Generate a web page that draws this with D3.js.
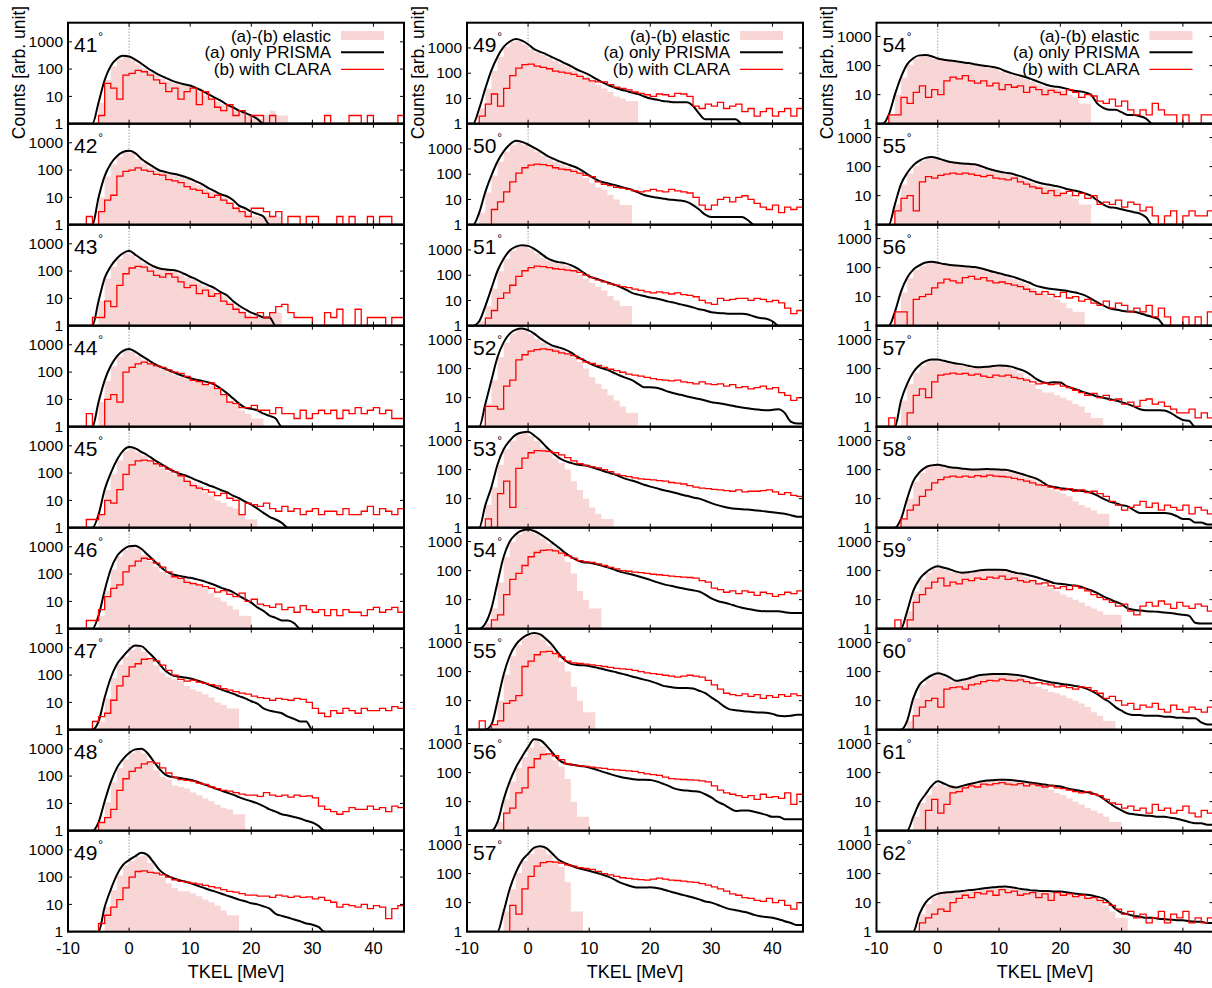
<!DOCTYPE html>
<html><head><meta charset="utf-8">
<script src="https://cdn.jsdelivr.net/npm/d3@7"></script>
<style>
body{margin:0;background:#fff}
svg{display:block}
text{font-family:"Liberation Sans",Arial,Helvetica,sans-serif;fill:#000}
</style>
</head><body>
<svg id="chart" width="1212" height="988"></svg>
<script>
// ---- data: counts per 1 MeV bin, first bin starts at binStart (bins absent at the end are empty) ----
const binStart = -8;
const xTicks = [-10, 0, 10, 20, 30, 40];
const yTicks = [1, 10, 100, 1000];
const xTickLabels = ["-10", "0", "10", "20", "30", "40"];
const yTickLabels = ["1", "10", "100", "1000"];
const legendLabels = ["(a)-(b) elastic", "(a) only PRISMA", "(b) with CLARA"];
const xTitle = "TKEL [MeV]";
const yTitle = "Counts [arb. unit]";

const leftAngles = [41, 42, 43, 44, 45, 46, 47, 48, 49];
const midAngles = [49, 50, 51, 52, 53, 54, 55, 56, 57];
const rightAngles = [54, 55, 56, 57, 58, 59, 60, 61, 62];
const leftYMax = [5000, 5000, 5000, 5000, 5000, 5000, 5000, 5000, 5000];
const midYMax = [10000, 10000, 10000, 3000, 3000, 3000, 3000, 3000, 3000];
const rightYMax = [3000, 3000, 3000, 3000, 3000, 3000, 3000, 3000, 3000];

// a = (a) only PRISMA, b = (b) with CLARA, e = (a)-(b) elastic
const L41a = [0,0,1,6,40, 130,240,310,290,220, 160,110,80,60,48, 38,32,28,25,20, 16,12,9,7,5, 4,3,2.5,2,1.5, 1];
const L41b = [0,1,1,2,30, 20,8,60,70,90, 80,60,40,30,15, 20,8,15,20,5, 15,8,4,3,5, 2,3,1,2,2, 1,2,1,0,0, 1,0,0,0,0, 2,0,0,0,2, 2,0,2,0,0, 0,0,2];
const L41e = [0,0,1,6,40, 125,230,300,280,210, 150,105,76,57,46, 36,30,27,24,19, 15,11,8.5,6.5,5, 4,3,2.5,2,1.5, 2,4,3,2];
const L42a = [0,0,1,10,60, 170,320,460,510,420, 260,180,130,97,85, 75,68,58,48,38, 30,22,17,13,11, 8,5,4,3,2.5, 2];
const L42b = [0,2,1,3,8, 12,60,90,100,120, 100,90,70,65,45, 40,35,25,20,18, 14,10,12,8,6, 4,3,2,4,4, 3,2,3,1,2, 2,1,2,2,1, 0,0,2,0,2, 1,0,2,0,2, 2,0,0];
const L42e = [0,0,1,10,58, 165,310,450,500,410, 255,175,125,93,82, 72,65,55,46,36, 28,21,16,12,10, 7,4.5,3.5,2.5,2, 2,3,2];
const L43a = [0,0,1,8,55, 150,290,450,560,400, 280,200,150,125,115, 110,100,80,62,50, 38,30,24,17,13, 8,5.5,4,3,2.5, 2,2];
const L43b = [0,0,2,2,8, 5,30,80,130,150, 140,100,70,60,80, 60,40,25,30,15, 20,12,15,8,6, 4,3,2,2,3, 2,3,5,6,3, 2,2,2,0,0, 3,2,4,0,0, 4,0,2,2,2, 0,2,2];
const L43e = [0,0,1,8,53, 145,280,440,550,390, 270,195,145,120,110, 105,95,76,60,48, 36,28,22,16,12, 7.5,5,3.5,2.5,2, 2,4,3];
const L44a = [0,0,1,8,50, 170,380,600,700,560, 400,290,210,160,130, 105,85,70,60,52, 47,42,35,25,17, 11,7,5,4.5,4, 3,2.5,2,1];
const L44b = [0,3,1,1,10, 15,8,100,150,200, 230,200,170,150,120, 100,90,70,50,45, 35,40,25,15,8, 7,5,5,6,4, 4,3,5,3,3, 2,4,2,3,4, 3,4,2,4,3, 5,3,4,5,3, 4,2,2];
const L44e = [0,0,1,8,48, 165,370,590,690,550, 390,280,200,155,125, 100,80,66,57,49, 44,39,32,22,14, 9,6,4,3,2];
const L45a = [0,0,1,3,25, 100,300,650,900,800, 600,450,320,230,170, 125,100,85,70,55, 45,36,30,24,20, 15,12,9,7,5, 3.5,2.5,2,1.5];
const L45b = [0,2,2,3,10, 8,25,90,200,280, 300,280,220,180,140, 110,80,50,35,28, 25,20,15,18,12, 10,3,8,7,6, 8,5,4,6,4, 5,3,4,5,3, 4,4,3,5,3, 3,4,6,3,5, 4,3,5];
const L45e = [0,0,1,3,24, 95,290,630,880,780, 580,430,300,215,160, 115,90,75,60,45, 35,20,15,10,8, 6,5,3,2];
const L46a = [0,0,1,3,25, 150,450,780,1050,1100, 850,520,320,200,130, 100,88,80,73,65, 57,48,40,32,27, 22,16,12,9,6, 4.5,3,2.5,2,2, 1.6];
const L46b = [0,2,2,5,15, 30,40,120,200,300, 380,350,250,180,120, 80,70,50,45,40, 35,30,22,25,18, 15,20,10,12,8, 7,6,8,5,6, 4,7,5,4,5, 3,5,3,5,4, 4,3,5,6,4, 5,6,4];
const L46e = [0,0,1,3,24, 145,440,760,1030,1080, 830,500,300,185,120, 92,80,70,62,52, 42,30,20,14,10, 7,5,3];
const L47a = [0,0,0,2,15, 80,250,480,850,1200, 1150,750,450,250,140, 100,88,82,75,65, 55,45,37,30,25, 21,17,14,11,9, 6,5,4.5,4,3, 2.5,2,2];
const L47b = [1,1,2,3,4, 12,40,90,200,260, 380,400,330,230,150, 100,70,60,65,55, 50,45,40,32,28, 25,22,20,17,15, 14,12,14,13,12, 14,13,10,6,4, 3,5,4,6,5, 4,6,5,5,6, 5,7,6];
const L47e = [0,0,0,2,14, 78,240,470,830,1170, 1120,720,430,230,125, 85,70,60,40,30, 25,20,15,10,8, 6];
const L48a = [0,0,0,2,12, 60,200,420,700,950, 1000,700,350,180,110, 92,87,80,73,63, 52,44,36,30,25, 21,17,14,12,10, 8,6,5,4,3.6, 3.2,2.8,2.3,2,1.5];
const L48b = [0,0,1,2,3, 6,30,80,150,200, 280,330,300,200,130, 90,75,70,65,55, 50,40,35,30,28, 25,22,20,20,18, 25,20,18,20,17, 20,18,19,16,8, 6,5,4,5,7, 6,6,8,6,7, 5,8,7];
const L48e = [0,0,0,2,11, 58,195,410,680,920, 970,670,330,165,95, 75,45,40,35,25, 20,15,12,9,7, 6,4];
const L49a = [0,0,0,1,8, 35,120,280,420,580, 780,650,350,180,120, 95,80,70,60,50, 42,35,30,25,21, 18,15,13,11,10, 8.5,7,4.5,3.8,3.3, 2.8,2.4,2,1.8,1.5];
const L49b = [0,0,0,2,4, 8,15,40,100,160, 170,150,140,120,100, 80,70,65,60,55, 50,45,40,35,30, 28,25,22,22,20, 20,18,22,20,18, 20,18,19,16,18, 14,12,8,10,9, 8,10,7,9,8, 3,7,9];
const L49e = [0,0,0,1,8, 33,115,270,400,560, 750,620,330,160,100, 60,40,30,30,25, 20,15,12,9,6, 4];

const M49a = [4,25,130,450,1100, 1800,2250,1950,1400,900, 700,560,420,330,250, 190,140,110,85,62, 45,35,28,23,20, 17,15,12,10,9, 8,7.5,7,7,7, 5,2.5,1.5,1.5,1.5, 1.5,1.5,1.5];
const M49b = [2,6,15,5,25, 80,160,220,230,190, 170,150,120,110,100, 90,75,60,50,45, 45,35,28,25,22, 18,16,14,12,15, 14,12,16,15,12, 5,4,6,5,7, 4,5,6,3,4, 2,3,4,2,3, 4,2,4];
const M49e = [4,24,125,440,1080, 1770,2200,1900,1370,880, 680,540,400,310,235, 175,125,95,70,50, 35,25,18,12,10, 8];
const M50a = [3,20,90,320,800, 1500,2100,1900,1500,1100, 800,560,420,330,270, 220,180,130,90,65, 50,44,38,33,28, 24,19,15,13,12, 11,10,9.5,9,8, 6,4,2.5,2,2, 2,2,2,2,1.5];
const M50b = [1,1,4,8,20, 50,110,180,230,250, 240,220,180,160,150, 130,110,90,80,50, 40,35,30,28,25, 22,20,22,25,22, 20,25,22,20,18, 12,6,4,6,10, 12,8,12,14,10, 7,5,4,6,3, 5,4,5];
const M50e = [3,19,88,310,780, 1470,2050,1850,1460,1070, 780,540,400,310,250, 200,160,110,70,45, 30,25,15,10,6];
const M51a = [1.5,6,30,150,450, 950,1350,1550,1450,1100, 750,500,380,330,300, 250,190,130,90,75, 62,52,43,35,27, 20,17,15,13,12, 10.5,9,8,7,6.2, 5.3,4.5,4,3.4,3.2, 3.1,3,3,3,2.8, 2.3,2,1.9,1.5];
const M51b = [1,2,4,12,20, 40,90,150,200,230, 220,200,180,170,160, 150,130,100,80,65, 55,45,40,35,32, 28,25,22,20,22, 20,18,20,17,16, 14,10,8,7,12, 10,11,12,12,10, 12,11,9,10,8, 5,3,4];
const M51e = [1.5,6,29,145,440, 930,1320,1510,1410,1070, 730,485,365,315,285, 235,170,110,70,50, 35,25,15,10,6];
const M52a = [1,6,40,250,800, 1600,2200,2400,2100,1600, 1100,800,620,540,460, 360,260,200,155,125, 105,90,72,58,48, 40,30,23,23,22, 19,16,14,12.5,11, 10,9,8,7,6.5, 6,5.5,5,4.6,4.3, 4,3.8,3.7,3.8,4, 3,1.5,1.3];
const M52b = [1,5,5,4,25, 40,200,300,400,450, 480,450,400,350,320, 280,220,170,150,130, 110,95,85,75,65, 60,55,50,45,42, 40,38,40,35,33, 30,35,30,28,30, 25,28,22,24,20, 22,25,20,22,15, 12,8,10];
const M52e = [1,6,39,245,780, 1560,2150,2340,2050,1560, 1070,780,600,520,440, 340,240,170,100,50, 30,20,12,8,5, 3];
const M53a = [1,6,25,150,500, 1000,1600,1900,2000,1500, 1000,600,380,260,200, 170,150,140,130,110, 95,80,70,58,48, 42,36,30,26,23, 20,18,16,14,12.5, 11,10,8.5,7,6, 5.3,4.8,4.5,4.3,4.2, 4,3.8,3.6,3.4,3.2, 3,2.7,2.4];
const M53b = [1,2,1,15,40, 5,110,250,380,450, 440,420,380,320,260, 200,160,140,125,115, 100,85,70,62,57, 52,48,46,44,42, 40,36,34,32,28, 25,23,22,21,20, 19,18,20,17,18, 18,19,20,17,14, 16,13,12];
const M53e = [1,6,24,145,490, 980,1560,1850,1950,1460, 970,580,360,240,170, 100,40,20,10,5, 3,2];
const M54a = [0,1.5,5,40,300, 1000,1800,2400,2600,2300, 1800,1300,900,620,420, 300,230,195,185,170, 150,130,110,92,82, 73,64,56,48,40, 35,31,28,25,23, 21,19,15,11,9, 8,7,6,5.3,4.8, 4.4,4.1,4,4,4, 3.7,3.5,3.5];
const M54b = [0,1,2,3,15, 50,80,150,300,420, 500,520,480,400,330, 270,220,200,190,170, 150,130,115,100,95, 88,85,80,75,72, 68,65,62,60,58, 55,45,40,25,22, 18,20,16,20,18, 14,18,16,13,15, 18,16,20];
const M54e = [0,1.5,5,39,290, 980,1760,2350,2540,2250, 1760,1270,870,590,380, 200,80,20,10,5];
const M55a = [0,0,1.5,10,80, 350,850,1400,1900,2150, 1900,1300,800,420,250, 185,170,165,155,140, 125,112,100,88,78, 68,60,53,47,40, 33,30,28,27,27, 26,22,18,13,9.5, 6.5,5,4.7,4.4,4.2, 4,3.9,3.8,3.5,3, 2.9,3,3.3];
const M55b = [2,0,1.5,2,8, 10,15,150,230,380, 480,500,420,320,230, 200,190,180,170,160, 150,140,130,125,120, 110,100,90,85,80, 75,70,65,70,75, 70,65,50,35,25, 18,16,15,17,14, 16,12,15,13,16, 14,17,15];
const M55e = [0,0,1.5,10,78, 340,830,1370,1860,2100, 1860,1270,780,400,220, 100,30,10,4];
const M56a = [0,0,0,2,12, 50,150,350,750,1400, 1300,850,480,280,210, 190,175,165,150,130, 110,95,82,72,65, 60,57,57,56,50, 42,35,28,25,24, 23,22,18,14,10, 8,6,4.8,5,5, 4.5,4,3.5,3,3, 2.5,2.5,2.5];
const M56b = [0,0,0,1,4, 6,20,30,150,300, 420,440,380,280,200, 180,170,165,155,145, 140,130,125,120,115, 110,100,90,85,80, 70,62,60,58,56, 55,52,48,35,25, 20,18,16,14,16, 12,18,14,15,13, 20,8,18];
const M56e = [0,0,0,2,12, 49,145,340,730,1370, 1270,830,460,260,160, 60,10,3];
const M57a = [0,0,0,0,5, 30,110,280,480,780, 880,750,480,300,230, 190,160,140,125,108, 95,80,65,50,42, 36,33,33,34,32, 29,25,22,19,17, 15,13,11,10,8.5, 7,6,5.5,5,4.5, 3.8,3.4,3.2,3,2.7, 2.3,2,1.7];
const M57b = [0,0,0,0,1, 8,4,30,80,180, 240,260,250,230,200, 180,160,150,140,120, 100,90,80,72,68, 65,62,60,65,70, 65,60,58,55,52, 50,45,40,35,30, 25,20,18,15,14, 12,11,14,10,12, 8,6,10];
const M57e = [0,0,0,0,5, 29,105,270,470,760, 860,730,460,280,170, 50,5];

const R54a = [2,10,40,110,180, 225,230,210,175,160, 150,140,130,122,112, 103,97,90,80,65, 55,48,42,36,30, 25,21,19,18,16, 14,13,12,10,5, 3.5,3,3,2.5,2, 2,1.8,1.5];
const R54b = [2,2,8,5,12, 20,8,15,10,30, 40,35,45,30,25, 30,20,25,15,22, 18,20,12,18,15, 10,14,12,10,15, 12,8,10,9,6, 5,7,4,6,3, 2,3,2,5,3, 2,2,1,2,1, 0,2,2];
const R54e = [2,10,39,105,175, 220,225,205,170,155, 145,135,125,118,108, 100,94,87,77,62, 52,46,40,34,28, 23,19,17,16,14, 10,8,5];
const R55a = [1,5,25,60,110, 160,200,215,195,165, 145,135,128,125,120, 105,88,76,68,62, 58,50,43,36,30, 26,24,22,20,17, 15.5,14,12,10,7, 5,4,3.8,3.4,3, 2.7,2.4,1.8];
const R55b = [1,3,8,10,3, 30,45,40,50,55, 60,55,60,55,50, 45,50,40,38,35, 40,30,25,20,18, 12,15,10,12,14, 10,12,8,10,5, 6,5,7,4,6, 5,3,4,2,1, 2,3,1,2,3, 2,2,3];
const R55e = [1,5,24,58,105, 155,195,210,190,160, 140,130,123,120,115, 100,85,73,65,59, 55,47,40,33,27, 23,21,19,17,14, 11,8,5];
const R56a = [0,3,15,45,85, 120,150,158,148,132, 124,118,113,109,105, 95,83,72,64,56, 50,43,36,30,24, 21,19,18,17,16, 14.5,13,11,8.5,6.5, 5,4,3.6,3.3,3.1, 3,2.7,2.3,2,1.7];
const R56b = [0,3,3,1,8, 10,12,20,30,40, 35,30,45,50,40, 45,35,30,32,28, 25,22,18,15,12, 15,12,10,14,9, 10,7,8,6,5, 7,4,6,5,3, 4,3,5,2,4, 2,1,1,2,1, 2,1,3];
const R56e = [0,3,14,43,82, 116,145,153,143,128, 120,114,109,105,101, 91,80,69,61,53, 47,40,33,27,20, 15,12,10,8,6, 4,3];
const R57a = [0,1,8,30,75, 130,180,205,205,185, 165,150,140,125,114, 112,115,122,128,125, 117,100,85,65,45, 35,32,34,33,25, 21,18,15,13,11, 10,9,8,7,6, 5,4,3.7,3.7,3.7, 3.6,3,2.2,1.7,1.6];
const R57b = [2,0,0,3,12, 20,10,35,60,65, 70,65,68,60,65, 55,50,60,55,60, 50,45,40,35,30, 32,28,30,25,22, 18,15,12,14,10, 12,8,9,6,7, 5,8,9,6,7, 5,4,3,3,4, 2,3,2];
const R57e = [0,1,8,29,72, 125,175,200,200,180, 160,145,135,120,110, 108,110,117,122,120, 110,90,70,50,30, 20,15,15,12,10, 8,6,5,3,2];
const R58a = [0,0,2,10,40, 80,120,140,148,135, 120,115,108,102,100, 102,104,102,100,98, 90,78,68,58,50, 38,28,25,23,22, 20,19,18,16,13, 10,8,7,6,5.4, 4,3.2,3.2,3.2,3.2, 3.2,3,2.5,2,2, 1.5,1.5,1.3];
const R58b = [0,0,2,4,6, 12,20,35,45,55, 60,55,60,55,62, 58,65,60,58,55, 50,45,40,35,30, 28,25,22,20,22, 18,20,16,18,15, 12,8,6,4,5, 6,8,5,7,4, 6,5,4,6,3, 5,4,3];
const R58e = [0,0,2,10,38, 77,116,135,143,130, 116,111,104,98,96, 98,100,98,96,94, 86,75,65,55,47, 35,25,22,18,15, 12,8,6,5,4, 3];
const R59a = [0,0,0,4,20, 50,85,120,140,125, 110,92,85,88,95, 102,106,108,108,104, 92,82,76,68,60, 52,44,37,35,33, 31,29,25,21,17, 13,10.5,8.5,7,5, 4.5,4.2,4,3.9,3.8, 3.6,3.5,3.2,3,2.8, 1.6,1.5,1.5];
const R59b = [0,2,0,2,8, 15,25,40,55,30, 40,35,50,45,55, 50,60,55,65,50, 55,45,40,45,35, 38,30,25,28,22, 30,25,20,15,12, 10,8,6,7,4, 3,6,8,6,9, 7,5,8,6,5, 7,6,4];
const R59e = [0,0,0,4,19, 48,82,116,135,120, 105,88,82,85,91, 98,102,104,104,100, 88,78,70,60,50, 40,30,25,20,15, 12,10,8,6,5, 4,3,3];
const R60a = [0,0,0,2,12, 35,55,75,88,78, 62,48,52,58,68, 76,80,82,83,82, 80,76,70,63,56, 50,45,41,38,36, 33,31,27,22,17, 12,9,6,4.5,3.5, 3.2,3.2,3,3,3, 2.8,2.8,2.6,2.6,2.5, 2.5,1.8,1.5];
const R60b = [0,0,0,1,3, 6,10,12,6,25, 28,30,25,35,38, 45,50,48,55,50, 48,52,45,40,42, 38,35,30,32,28, 25,30,28,22,18, 12,14,10,7,8, 5,7,6,8,5, 4,7,5,4,6, 5,4,6];
const R60e = [0,0,0,2,12, 34,53,72,85,75, 60,46,50,56,65, 73,77,79,80,79, 77,73,65,55,40, 30,25,20,18,15, 12,10,8,6,4, 3,2];
const R61a = [0,0,0,1,3, 9,18,35,50,42, 34,31,35,40,44, 49,53,55,57,57, 56,52,49,46,43, 40,37,35,33,29, 26,24,22,20,17, 13,9,6.5,5,4, 3.7,3.5,3.3,3.2,3, 3,2.8,2.6,2.3,2, 1.8,1.8,1.6];
const R61b = [0,0,0,0,0, 1,5,12,4,8, 20,22,30,35,32, 40,38,42,45,40, 38,42,35,40,36, 32,35,30,28,25, 22,20,22,18,16, 12,9,8,6,7, 5,6,4,8,5, 6,4,5,7,4, 3,5,4];
const R61e = [0,0,0,1,3, 9,17,34,48,40, 33,30,34,38,42, 47,51,53,55,55, 54,50,47,44,40, 35,30,25,20,17, 13,10,8,6,5, 4,3,2];
const R62a = [0,0,0,0,0, 4,10,16,20,22, 23,24,25,27,28, 30,32,34,35,36, 34,31,29,27,26, 25,25,24,24,23, 21,20,19,18,16, 14,10,6,4.5,4, 3.5,3.3,3,3,2.8, 2.7,2.6,2.5,2.5,2.3, 2.2,2.2,2];
const R62b = [0,0,0,0,0, 2,3,4,6,5, 10,14,18,15,22, 20,25,18,28,22, 25,18,20,22,15, 20,12,22,18,20, 16,18,14,15,12, 10,8,6,4,5, 3,4,2,3,5, 2,4,3,5,2, 3,2,3];
const R62e = [0,0,0,0,0, 4,9,15,19,21, 22,23,24,26,27, 29,31,32,33,34, 32,29,27,25,24, 23,23,22,22,21, 19,18,17,16,14, 12,8,5,3];

const leftA = [L41a, L42a, L43a, L44a, L45a, L46a, L47a, L48a, L49a];
const leftB = [L41b, L42b, L43b, L44b, L45b, L46b, L47b, L48b, L49b];
const leftE = [L41e, L42e, L43e, L44e, L45e, L46e, L47e, L48e, L49e];
const midA = [M49a, M50a, M51a, M52a, M53a, M54a, M55a, M56a, M57a];
const midB = [M49b, M50b, M51b, M52b, M53b, M54b, M55b, M56b, M57b];
const midE = [M49e, M50e, M51e, M52e, M53e, M54e, M55e, M56e, M57e];
const rightA = [R54a, R55a, R56a, R57a, R58a, R59a, R60a, R61a, R62a];
const rightB = [R54b, R55b, R56b, R57b, R58b, R59b, R60b, R61b, R62b];
const rightE = [R54e, R55e, R56e, R57e, R58e, R59e, R60e, R61e, R62e];

// ---- layout ----
const nBins = 53;
const columns = [
  {angles: leftAngles, ymax: leftYMax, A: leftA, B: leftB, E: leftE, x0: 68, x1: 404},
  {angles: midAngles, ymax: midYMax, A: midA, B: midB, E: midE, x0: 467, x1: 803},
  {angles: rightAngles, ymax: rightYMax, A: rightA, B: rightB, E: rightE, x0: 876.5, x1: 1213.5}
];
const top0 = 22.7, rowH = 101, nRows = 9;
const pink = "#f9d6d6", red = "#ff0000";
const svg = d3.select("#chart");
svg.append("rect").attr("width", 1212).attr("height", 988).attr("fill", "#fff");
const defs = svg.append("defs");
const val = (arr, i) => (i < arr.length ? arr[i] : 0);

columns.forEach((col, ci) => {
  const x = d3.scaleLinear().domain([-10, 45]).range([col.x0, col.x1]);
  for (let ri = 0; ri < nRows; ri++) {
    const t = top0 + ri * rowH, b = t + rowH;
    const y = d3.scaleLog().domain([1, col.ymax[ri]]).range([b, t]);
    const A = col.A[ri], B = col.B[ri], E = col.E[ri];
    const id = `clip${ci}_${ri}`;
    defs.append("clipPath").attr("id", id).append("rect")
      .attr("x", col.x0).attr("y", t).attr("width", col.x1 - col.x0).attr("height", rowH);
    const g = svg.append("g").attr("clip-path", `url(#${id})`);
    const cl = v => Math.max(v, 1);
    const bins = d3.range(nBins);

    // zero line
    g.append("line").attr("x1", x(0)).attr("x2", x(0)).attr("y1", t).attr("y2", b)
      .attr("stroke", "#777").attr("stroke-width", 1).attr("stroke-dasharray", "1,2");

    // (a)-(b) elastic : histogram steps, kept under the (a) curve
    const el = bins.map(i => [binStart + i, Math.min(val(E, i), val(E, i + 1) || val(E, i) * (val(A, i + 1) >= 1 ? 1 : 0) || val(E, i))]);
    el.push([45, 0]);
    g.append("path").datum(el)
      .attr("d", d3.area().x(d => x(d[0])).y0(b).y1(d => y(cl(d[1]))).curve(d3.curveStepAfter))
      .attr("fill", pink);

    // (a) only PRISMA
    const pa = [[-10, 0], [-9, 0]].concat(bins.map(i => [binStart + i, val(A, i)]));
    pa.push([45, val(A, nBins - 1)]);
    g.append("path").datum(pa)
      .attr("d", d3.line().x(d => x(d[0])).y(d => y(cl(d[1]))).curve(d3.curveMonotoneX))
      .attr("fill", "none").attr("stroke", "#000").attr("stroke-width", 2);

    // (b) with CLARA
    const pb = [[-10, 0]].concat(bins.map(i => [binStart + i, val(B, i)]));
    pb.push([45, val(B, nBins - 1)]);
    g.append("path").datum(pb)
      .attr("d", d3.line().x(d => x(d[0])).y(d => y(cl(d[1]))).curve(d3.curveStepAfter))
      .attr("fill", "none").attr("stroke", red).attr("stroke-width", 1.3);

    // frame
    svg.append("rect").attr("x", col.x0).attr("y", t).attr("width", col.x1 - col.x0).attr("height", rowH)
      .attr("fill", "none").attr("stroke", "#000").attr("stroke-width", 2);

    // ticks
    const tk = svg.append("g").attr("stroke", "#000").attr("stroke-width", 1);
    xTicks.forEach(v => {
      tk.append("line").attr("x1", x(v)).attr("x2", x(v)).attr("y1", b).attr("y2", b - 4);
      tk.append("line").attr("x1", x(v)).attr("x2", x(v)).attr("y1", t).attr("y2", t + 4);
    });
    yTicks.forEach(v => {
      tk.append("line").attr("x1", col.x0).attr("x2", col.x0 + 4).attr("y1", y(v)).attr("y2", y(v));
      tk.append("line").attr("x1", col.x1).attr("x2", col.x1 - 4).attr("y1", y(v)).attr("y2", y(v));
    });
    yTicks.forEach((v, k) => {
      svg.append("text").attr("x", col.x0 - 5).attr("y", y(v)).attr("dy", "0.33em")
        .attr("text-anchor", "end").attr("font-size", 15.5).text(yTickLabels[k]);
    });
    if (ri === nRows - 1) {
      xTicks.forEach((v, k) => {
        svg.append("text").attr("x", x(v)).attr("y", 953.5).attr("text-anchor", "middle")
          .attr("font-size", 16.5).text(xTickLabels[k]);
      });
    }

    // panel label
    const lab = svg.append("text").attr("x", col.x0 + 6).attr("y", t + 29).attr("font-size", 21);
    lab.append("tspan").text(String(col.angles[ri]));
    lab.append("tspan").attr("font-size", 12).attr("dx", 1).attr("dy", -11).text("°");

    // legend in first row
    if (ri === 0) {
      const lx = col.x0 + 263, sx0 = col.x0 + 273, sx1 = col.x0 + 316;
      const lys = [t + 18.8, t + 35.4, t + 52.4];
      legendLabels.forEach((s, k) => {
        svg.append("text").attr("x", lx).attr("y", lys[k]).attr("text-anchor", "end")
          .attr("font-size", 17).text(s);
      });
      svg.append("rect").attr("x", sx0).attr("y", t + 8.3).attr("width", sx1 - sx0).attr("height", 9)
        .attr("fill", pink);
      svg.append("line").attr("x1", sx0).attr("x2", sx1).attr("y1", t + 29.6).attr("y2", t + 29.6)
        .attr("stroke", "#000").attr("stroke-width", 2);
      svg.append("line").attr("x1", sx0).attr("x2", sx1).attr("y1", t + 46.6).attr("y2", t + 46.6)
        .attr("stroke", red).attr("stroke-width", 1.3);
      svg.append("text").attr("transform", `translate(${col.x0 - 43.5},${72.5}) rotate(-90)`)
        .attr("text-anchor", "middle").attr("font-size", 17.5).text(yTitle);
    }
  }
  svg.append("text").attr("x", (col.x0 + col.x1) / 2).attr("y", 978).attr("text-anchor", "middle")
    .attr("font-size", 18).text(xTitle);
});
</script>
</body></html>
